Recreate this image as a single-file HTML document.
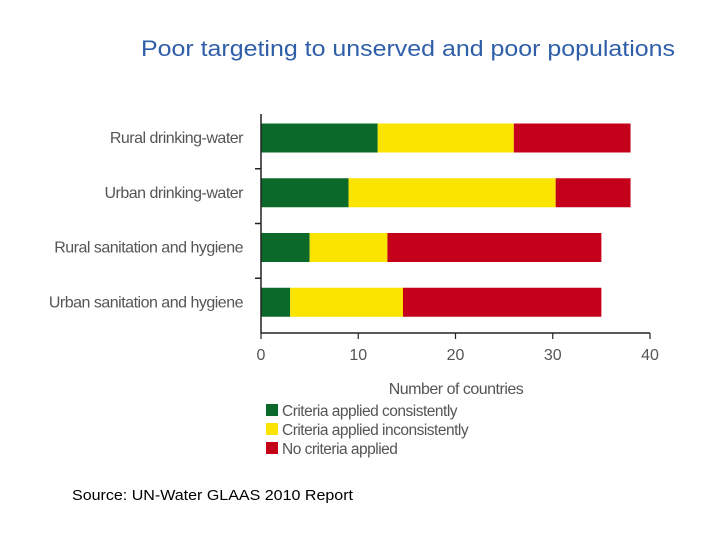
<!DOCTYPE html>
<html><head><meta charset="utf-8"><style>
body{margin:0;background:#fff;}
svg{display:block;font-family:"Liberation Sans",sans-serif;}
</style></head><body>
<svg width="720" height="540">
<text x="141" y="56" textLength="534" lengthAdjust="spacingAndGlyphs" font-family="Liberation Sans" font-size="22" fill="#2f5fa8">Poor targeting to unserved and poor populations</text>
<g id="plot"></g>
<text x="72" y="500" textLength="281" lengthAdjust="spacingAndGlyphs" font-size="15" fill="#000">Source: UN-Water GLAAS 2010 Report</text>
</svg>
<script>
const categories=["Rural drinking-water","Urban drinking-water","Rural sanitation and hygiene","Urban sanitation and hygiene"];
const consistent=[12,9,5,3];
const inconsistent=[14,21.3,8,11.6];
const noCriteria=[12,7.7,22,20.4];
const xTicks=[0,10,20,30,40];
const seriesNames=["Criteria applied consistently","Criteria applied inconsistently","No criteria applied"];
const colors=["#0b6a2a","#fbe400","#c4001a"];
const NS="http://www.w3.org/2000/svg";
const g=document.getElementById('plot');
const x0=261,x1=650,xMax=40;
const X=v=>x0+(x1-x0)*v/xMax;
const yTop=114,yBot=333,band=(yBot-yTop)/categories.length;
const Y=i=>yTop+band*i;
function mk(t,a){const e=document.createElementNS(NS,t);for(const k in a)e.setAttribute(k,a[k]);g.appendChild(e);return e;}
const series=[consistent,inconsistent,noCriteria];
categories.forEach((c,i)=>{
  let acc=0;
  series.forEach((s,j)=>{
    const r=mk('rect',{x:X(acc),y:Y(i)+9.5,width:X(acc+s[i])-X(acc),height:29,fill:colors[j]});
    
    
    acc+=s[i];
  });
  const t=mk('text',{x:243,y:Y(i)+29,'text-anchor':'end','font-size':16,fill:'#555','letter-spacing':'-0.5'});
  t.textContent=c;
  
  
  if(i>0){const tk=mk('line',{x1:255,x2:261,y1:Y(i),y2:Y(i),stroke:'#222','stroke-width':1.5});
  
  }
});
const ya=mk('line',{x1:x0,x2:x0,y1:yTop,y2:yBot,stroke:'#222','stroke-width':1.5});


const xa=mk('line',{x1:x0,x2:x1,y1:yBot,y2:yBot,stroke:'#222','stroke-width':1.5});


xTicks.forEach(v=>{
  const l=mk('line',{x1:X(v),x2:X(v),y1:yBot,y2:yBot+6,stroke:'#222','stroke-width':1.2});
  
  
  const t=mk('text',{x:X(v),y:yBot+27,'text-anchor':'middle','font-size':16,fill:'#555'});
  t.textContent=v;
  
  
});
const xt=mk('text',{x:456,y:394,'text-anchor':'middle','font-size':16,fill:'#555','letter-spacing':'-0.5'});
xt.textContent='Number of countries';


seriesNames.forEach((n,j)=>{
  const r=mk('rect',{x:266,y:404+j*19,width:12,height:12,fill:colors[j]});
  
  
  const t=mk('text',{x:282,y:416+j*19,'font-size':15.5,fill:'#555','letter-spacing':'-0.5'});
  t.textContent=n;
  
  
});
</script>
</body></html>
